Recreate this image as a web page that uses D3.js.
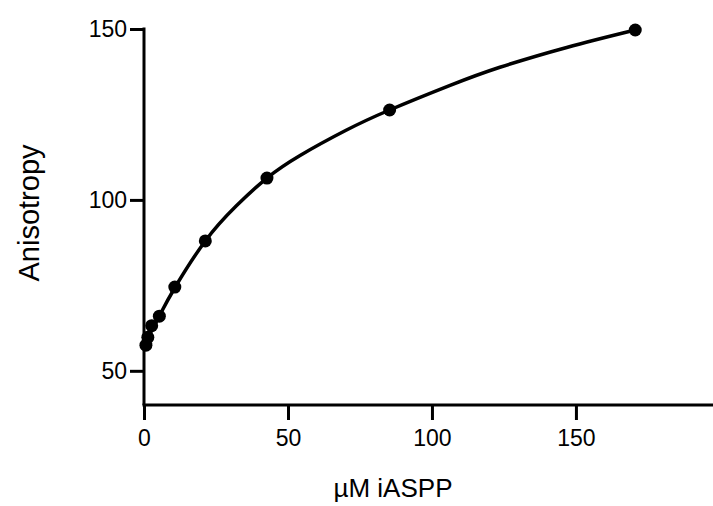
<!DOCTYPE html>
<html>
<head>
<meta charset="utf-8">
<script src="https://cdn.jsdelivr.net/npm/d3@7"></script>
<style>
  html, body { margin: 0; padding: 0; background: #fff; }
  svg { display: block; }
  text { font-family: "Liberation Sans", Arial, Helvetica, sans-serif; fill: #000; }
</style>
</head>
<body>
<svg id="chart" width="713" height="506"></svg>
<script>
// Measured anisotropy at each iASPP concentration (µM)
const concentration = [0.67, 1.33, 2.67, 5.33, 10.7, 21.3, 42.7, 85.3, 170.6];
const anisotropy    = [57.5, 59.8, 63.2, 66.0, 74.5, 88.0, 106.4, 126.3, 149.7];

// Binding fit curve, sampled along its length
const fitConcentration = [0, 5.3, 10.7, 21.3, 32, 42.7, 54.2, 70, 85.3, 106.3, 123.6, 146.8, 170.6];
const fitAnisotropy    = [57.5, 66.0, 74.3, 88.0, 98.2, 106.4, 113.0, 120.3, 126.3, 133.5, 138.8, 144.6, 149.7];

const xTicks = [0, 50, 100, 150];
const yTicks = [50, 100, 150];
const xTitle = "µM iASPP";
const yTitle = "Anisotropy";

const svg = d3.select("#chart");

const x = d3.scaleLinear().domain([0, 197.6]).range([144, 713]);
const y = d3.scaleLinear().domain([40, 150]).range([405, 29]);

const axisStroke = 3;

// X axis
const gx = svg.append("g")
  .attr("transform", `translate(0,${y(40)})`)
  .call(d3.axisBottom(x).tickValues(xTicks).tickSize(15).tickPadding(10).tickFormat(d3.format("d")));
gx.select(".domain").attr("d", `M${x(0) - axisStroke / 2},0H${x(197.6)}`);

// Y axis
const gy = svg.append("g")
  .attr("transform", `translate(${x(0)},0)`)
  .call(d3.axisLeft(y).tickValues(yTicks).tickSize(14).tickPadding(3).tickFormat(d3.format("d")));
gy.select(".domain").attr("d", `M0,${y(150) - axisStroke / 2}V${y(40)}`);

svg.selectAll(".domain, .tick line")
  .attr("stroke", "#000")
  .attr("stroke-width", axisStroke)
  .attr("stroke-linecap", "butt");
svg.selectAll(".tick text")
  .attr("font-size", 23)
  .attr("fill", "#000");

// Fitted curve
const line = d3.line()
  .x((d, i) => x(fitConcentration[i]))
  .y(d => y(d))
  .curve(d3.curveNatural);

svg.append("path")
  .datum(fitAnisotropy)
  .attr("d", line)
  .attr("fill", "none")
  .attr("stroke", "#000")
  .attr("stroke-width", 3.5)
  .attr("stroke-linejoin", "round");

// Data points
svg.append("g")
  .selectAll("circle")
  .data(anisotropy)
  .join("circle")
  .attr("cx", (d, i) => x(concentration[i]))
  .attr("cy", d => y(d))
  .attr("r", 6.5)
  .attr("fill", "#000");

// Axis titles
svg.append("text")
  .attr("x", 393)
  .attr("y", 497)
  .attr("text-anchor", "middle")
  .attr("font-size", 26)
  .text(xTitle);

svg.append("text")
  .attr("transform", `translate(39,213) rotate(-90)`)
  .attr("text-anchor", "middle")
  .attr("font-size", 29)
  .text(yTitle);
</script>
</body>
</html>
